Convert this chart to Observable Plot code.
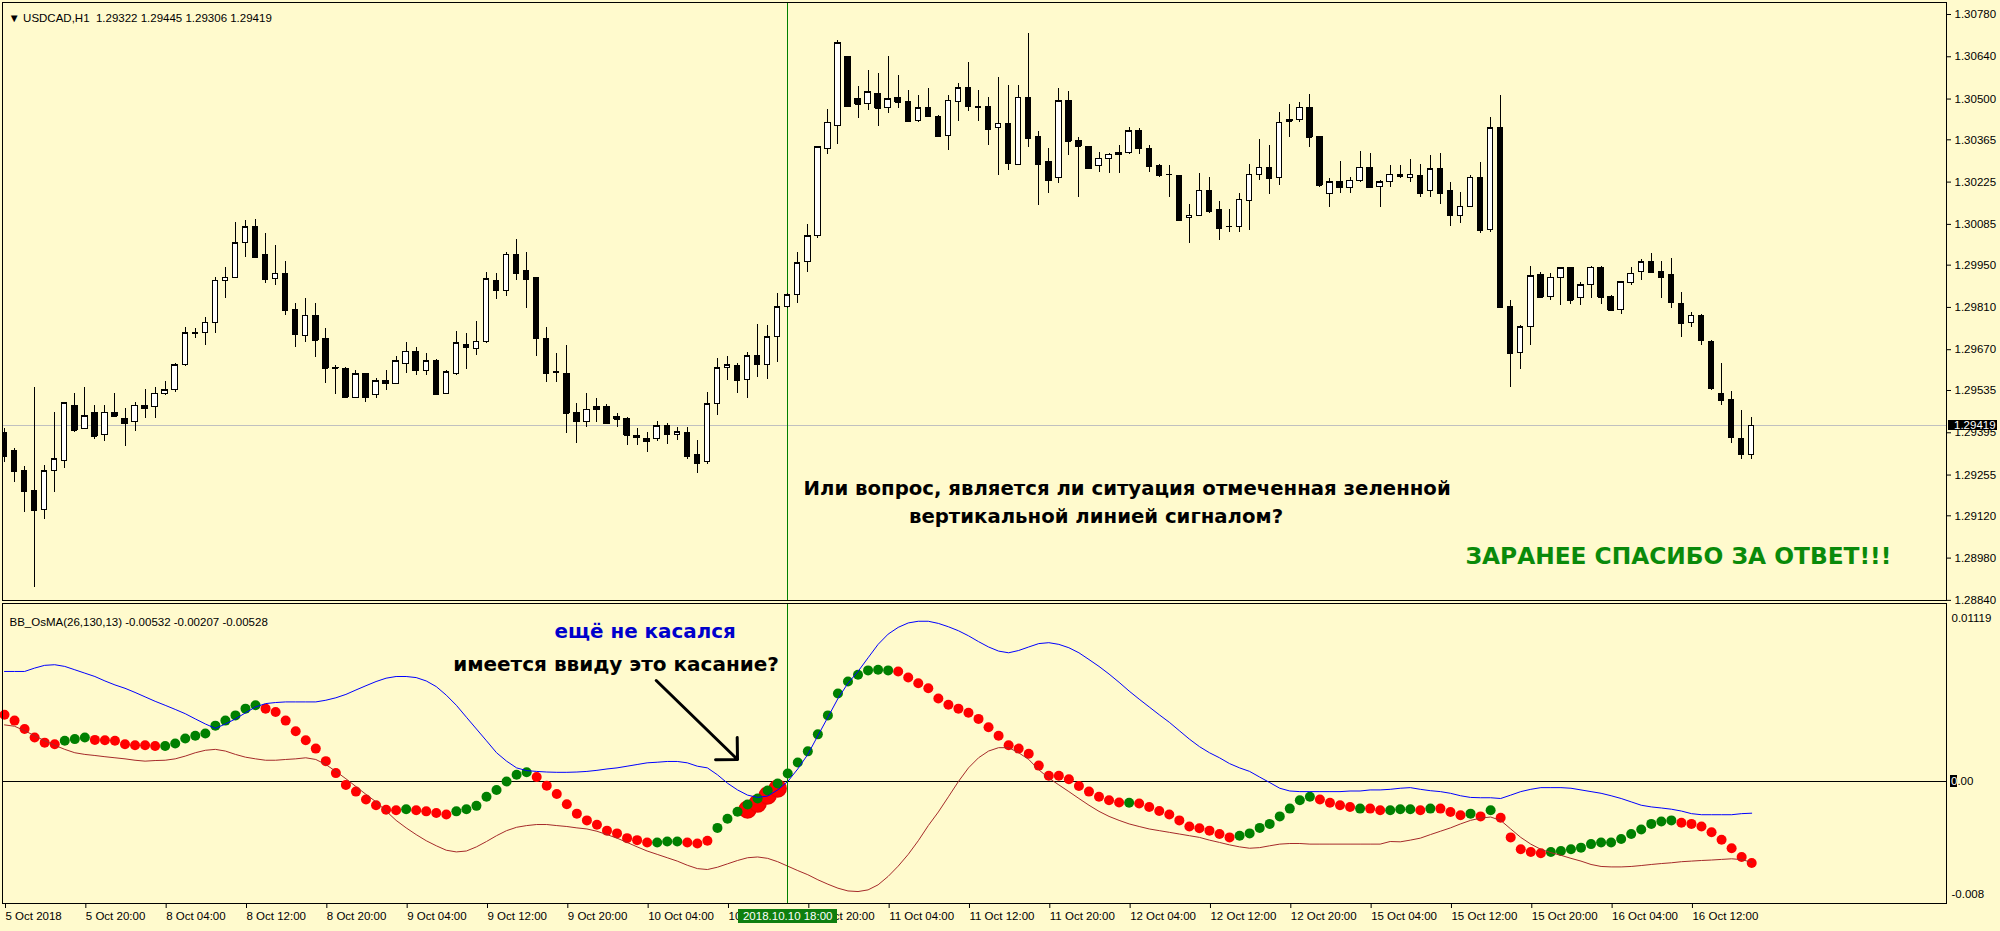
<!DOCTYPE html>
<html><head><meta charset="utf-8">
<script src="https://cdn.jsdelivr.net/npm/d3@7"></script>
<script src="https://cdn.jsdelivr.net/npm/@observablehq/plot@0.6"></script>
<style>
html,body{margin:0;padding:0;background:#FFFACD;}
#chart{position:relative;width:2000px;height:931px;overflow:hidden;background:#FFFACD;}
#chart svg{display:block;background:#FFFACD;overflow:visible;}
#chart svg rect, #chart svg line{shape-rendering:crispEdges;}
</style></head><body><div id="chart"></div>
<script>
// ---------- DATA ----------
const symbolHeader = "\u25BC USDCAD,H1  1.29322 1.29445 1.29306 1.29419";
const oscHeader = "BB_OsMA(26,130,13) -0.00532 -0.00207 -0.00528";

const open = [
1.29393,1.29333,1.29267,1.29201,1.29138,1.29267,1.29303,1.29485,1.29409,1.29459,
1.29386,1.29462,1.29439,1.29429,1.29485,1.29479,1.29525,1.29535,1.29618,1.29727,
1.29727,1.29760,1.29899,1.29909,1.30022,1.30075,1.29985,1.29903,1.29922,1.29800,
1.29714,1.29783,1.29704,1.29611,1.29605,1.29509,1.29588,1.29519,1.29568,1.29558,
1.29624,1.29664,1.29601,1.29634,1.29525,1.29588,1.29684,1.29674,1.29697,1.29896,
1.29866,1.29985,1.29929,1.29906,1.29707,1.29595,1.29591,1.29459,1.29432,1.29479,
1.29479,1.29446,1.29439,1.29383,1.29376,1.29373,1.29416,1.29386,1.29393,1.29323,
1.29297,1.29489,1.29608,1.29615,1.29571,1.29648,1.29621,1.29711,1.29810,1.29850,
1.29962,1.30045,1.30336,1.30412,1.30638,1.30499,1.30482,1.30518,1.30469,1.30502,
1.30489,1.30426,1.30469,1.30442,1.30376,1.30489,1.30535,1.30475,1.30475,1.30403,
1.30419,1.30283,1.30502,1.30373,1.30290,1.30237,1.30492,1.30360,1.30340,1.30277,
1.30303,1.30320,1.30320,1.30393,1.30333,1.30277,1.30250,1.30244,1.30105,1.30114,
1.30194,1.30134,1.30078,1.30075,1.30164,1.30250,1.30273,1.30240,1.30432,1.30432,
1.30472,1.30373,1.30187,1.30224,1.30207,1.30230,1.30273,1.30210,1.30224,1.30247,
1.30240,1.30244,1.30194,1.30267,1.30194,1.30114,1.30144,1.30240,1.30065,1.30403,
1.29810,1.29658,1.29744,1.29916,1.29846,1.29909,1.29939,1.29840,1.29883,1.29942,
1.29843,1.29800,1.29890,1.29926,1.29959,1.29926,1.29919,1.29823,1.29757,1.29783,
1.29697,1.29525,1.29502,1.29373,1.29322];
const high = [
1.29409,1.29343,1.29283,1.29545,1.29287,1.29462,1.29495,1.29525,1.29545,1.29485,
1.29485,1.29525,1.29475,1.29495,1.29538,1.29545,1.29565,1.29624,1.29744,1.29740,
1.29777,1.29909,1.29942,1.30091,1.30098,1.30101,1.30055,1.30015,1.29962,1.29823,
1.29840,1.29823,1.29740,1.29618,1.29611,1.29601,1.29591,1.29575,1.29601,1.29648,
1.29694,1.29677,1.29658,1.29638,1.29601,1.29730,1.29724,1.29764,1.29926,1.29922,
1.29992,1.30035,1.29992,1.29909,1.29744,1.29658,1.29684,1.29492,1.29525,1.29509,
1.29489,1.29459,1.29446,1.29409,1.29396,1.29432,1.29426,1.29413,1.29413,1.29369,
1.29528,1.29641,1.29648,1.29624,1.29661,1.29754,1.29750,1.29856,1.29856,1.29992,
1.30085,1.30343,1.30465,1.30694,1.30641,1.30542,1.30595,1.30585,1.30641,1.30578,
1.30528,1.30512,1.30535,1.30446,1.30512,1.30552,1.30621,1.30528,1.30505,1.30571,
1.30545,1.30545,1.30717,1.30393,1.30336,1.30535,1.30525,1.30373,1.30343,1.30323,
1.30320,1.30346,1.30406,1.30403,1.30346,1.30283,1.30280,1.30247,1.30151,1.30254,
1.30240,1.30161,1.30134,1.30187,1.30283,1.30366,1.30346,1.30456,1.30482,1.30489,
1.30515,1.30376,1.30237,1.30293,1.30240,1.30326,1.30320,1.30230,1.30280,1.30280,
1.30300,1.30283,1.30313,1.30320,1.30224,1.30191,1.30247,1.30290,1.30439,1.30512,
1.29833,1.29750,1.29946,1.29926,1.29922,1.29942,1.29939,1.29893,1.29946,1.29946,
1.29850,1.29896,1.29942,1.29969,1.29989,1.29962,1.29972,1.29860,1.29793,1.29787,
1.29701,1.29624,1.29532,1.29469,1.29445];
const low = [
1.29297,1.29230,1.29131,1.28883,1.29108,1.29197,1.29277,1.29396,1.29406,1.29373,
1.29366,1.29446,1.29350,1.29399,1.29442,1.29442,1.29519,1.29528,1.29615,1.29707,
1.29684,1.29724,1.29840,1.29906,1.29975,1.29972,1.29889,1.29883,1.29783,1.29677,
1.29694,1.29644,1.29558,1.29522,1.29509,1.29507,1.29495,1.29509,1.29535,1.29555,
1.29591,1.29585,1.29585,1.29519,1.29522,1.29585,1.29605,1.29651,1.29691,1.29836,
1.29846,1.29899,1.29807,1.29648,1.29562,1.29562,1.29393,1.29360,1.29413,1.29429,
1.29422,1.29413,1.29353,1.29353,1.29330,1.29366,1.29356,1.29370,1.29307,1.29260,
1.29290,1.29452,1.29568,1.29525,1.29509,1.29578,1.29571,1.29628,1.29807,1.29823,
1.29926,1.30038,1.30316,1.30350,1.30472,1.30436,1.30462,1.30409,1.30452,1.30469,
1.30423,1.30422,1.30439,1.30373,1.30330,1.30426,1.30459,1.30426,1.30346,1.30247,
1.30263,1.30280,1.30340,1.30148,1.30187,1.30220,1.30313,1.30174,1.30267,1.30257,
1.30254,1.30254,1.30316,1.30316,1.30257,1.30240,1.30174,1.30095,1.30022,1.30111,
1.30121,1.30032,1.30058,1.30058,1.30065,1.30230,1.30184,1.30214,1.30373,1.30422,
1.30340,1.30207,1.30141,1.30187,1.30187,1.30224,1.30204,1.30141,1.30207,1.30237,
1.30224,1.30174,1.30174,1.30151,1.30078,1.30088,1.30141,1.30055,1.30058,1.29807,
1.29545,1.29605,1.29684,1.29840,1.29833,1.29817,1.29820,1.29817,1.29840,1.29820,
1.29797,1.29787,1.29883,1.29899,1.29923,1.29840,1.29807,1.29711,1.29744,1.29684,
1.29535,1.29485,1.29360,1.29306,1.29306];
const close = [
1.29317,1.29267,1.29201,1.29138,1.29267,1.29307,1.29492,1.29403,1.29449,1.29383,
1.29462,1.29449,1.29426,1.29485,1.29475,1.29525,1.29535,1.29618,1.29724,1.29724,
1.29760,1.29899,1.29909,1.30022,1.30075,1.29975,1.29903,1.29922,1.29800,1.29720,
1.29783,1.29701,1.29608,1.29608,1.29512,1.29588,1.29512,1.29565,1.29558,1.29631,
1.29664,1.29601,1.29631,1.29522,1.29595,1.29691,1.29677,1.29697,1.29903,1.29866,
1.29985,1.29922,1.29903,1.29707,1.29591,1.29594,1.29459,1.29432,1.29472,1.29472,
1.29426,1.29439,1.29386,1.29379,1.29366,1.29416,1.29389,1.29396,1.29317,1.29293,
1.29489,1.29608,1.29618,1.29568,1.29648,1.29621,1.29711,1.29810,1.29850,1.29956,
1.30045,1.30340,1.30422,1.30684,1.30475,1.30482,1.30522,1.30469,1.30499,1.30489,
1.30426,1.30469,1.30442,1.30376,1.30495,1.30535,1.30475,1.30472,1.30399,1.30419,
1.30287,1.30505,1.30369,1.30283,1.30230,1.30492,1.30360,1.30343,1.30270,1.30303,
1.30316,1.30316,1.30393,1.30336,1.30277,1.30247,1.30250,1.30098,1.30114,1.30197,
1.30128,1.30071,1.30078,1.30167,1.30250,1.30273,1.30237,1.30422,1.30426,1.30472,
1.30373,1.30214,1.30224,1.30207,1.30230,1.30273,1.30207,1.30224,1.30250,1.30244,
1.30250,1.30187,1.30267,1.30187,1.30114,1.30144,1.30240,1.30065,1.30403,1.29810,
1.29658,1.29744,1.29913,1.29843,1.29909,1.29939,1.29833,1.29883,1.29942,1.29843,
1.29800,1.29893,1.29922,1.29959,1.29926,1.29909,1.29826,1.29757,1.29783,1.29701,
1.29542,1.29502,1.29379,1.29322,1.29419];

const oscValue = [
0.00436,0.00398,0.00343,0.00288,0.00254,0.00243,0.00266,0.00277,0.00288,0.00272,
0.00270,0.00266,0.00243,0.00237,0.00237,0.00232,0.00232,0.00248,0.00281,0.00299,
0.00314,0.00365,0.00398,0.00432,0.00476,0.00498,0.00476,0.00454,0.00398,0.00328,
0.00270,0.00215,0.00133,0.00055,-0.00022,-0.00066,-0.00117,-0.00155,-0.00184,-0.00188,
-0.00181,-0.00188,-0.00195,-0.00206,-0.00215,-0.00195,-0.00181,-0.00159,-0.00100,-0.00055,
0.00000,0.00044,0.00060,0.00029,-0.00027,-0.00082,-0.00148,-0.00210,-0.00254,-0.00283,
-0.00321,-0.00339,-0.00370,-0.00383,-0.00398,-0.00398,-0.00392,-0.00392,-0.00398,-0.00405,
-0.00387,-0.00303,-0.00243,-0.00197,-0.00150,-0.00111,-0.00059,-0.00013,0.00052,0.00124,
0.00197,0.00308,0.00432,0.00575,0.00653,0.00697,0.00726,0.00730,0.00726,0.00719,
0.00679,0.00642,0.00609,0.00542,0.00502,0.00476,0.00449,0.00409,0.00354,0.00299,
0.00237,0.00215,0.00181,0.00104,0.00038,0.00038,0.00015,-0.00029,-0.00066,-0.00100,
-0.00122,-0.00137,-0.00139,-0.00144,-0.00166,-0.00193,-0.00215,-0.00254,-0.00294,-0.00305,
-0.00321,-0.00343,-0.00365,-0.00354,-0.00339,-0.00303,-0.00277,-0.00228,-0.00177,-0.00122,
-0.00100,-0.00117,-0.00139,-0.00155,-0.00166,-0.00177,-0.00177,-0.00188,-0.00188,-0.00181,
-0.00181,-0.00188,-0.00177,-0.00177,-0.00199,-0.00221,-0.00210,-0.00228,-0.00188,-0.00237,
-0.00365,-0.00443,-0.00460,-0.00469,-0.00460,-0.00454,-0.00443,-0.00432,-0.00409,-0.00398,
-0.00398,-0.00376,-0.00343,-0.00314,-0.00277,-0.00261,-0.00254,-0.00270,-0.00277,-0.00294,
-0.00332,-0.00381,-0.00436,-0.00493,-0.00532];
// u = rising (green dot), d = falling (red dot)
const oscDir = "dddddd"+"uuu"+"ddddddd"+"uuuuuuuuuu"+"dddddddddddddd"+"u"+"dddd"+"uuuuuuuu"+
  "dddddddddddd"+"uuu"+"ddd"+"uuuuuuuuuuuuuuuuuu"+"ddddddddddddddddddddddd"+"u"+"dddddddddd"+
  "uuuuuuuu"+"dddd"+"u"+"dd"+"uuu"+"d"+"u"+"ddd"+"u"+"d"+"u"+"ddddd"+"uuuuuuuuuuuuu"+"dddddddd";
const bandUpper = [
0.00719,0.00719,0.00719,0.00741,0.00759,0.00763,0.00752,0.00730,0.00708,0.00686,
0.00657,0.00631,0.00609,0.00582,0.00553,0.00524,0.00498,0.00471,0.00443,0.00409,
0.00376,0.00347,0.00376,0.00409,0.00449,0.00487,0.00509,0.00516,0.00520,0.00520,
0.00520,0.00520,0.00531,0.00547,0.00569,0.00598,0.00626,0.00653,0.00675,0.00686,
0.00686,0.00679,0.00657,0.00620,0.00564,0.00498,0.00420,0.00343,0.00266,0.00188,
0.00133,0.00089,0.00071,0.00066,0.00062,0.00060,0.00060,0.00062,0.00066,0.00073,
0.00082,0.00089,0.00100,0.00111,0.00122,0.00126,0.00131,0.00131,0.00122,0.00100,
0.00089,0.00044,-0.00011,-0.00055,-0.00089,-0.00104,-0.00095,-0.00055,0.00000,0.00082,
0.00177,0.00299,0.00420,0.00542,0.00642,0.00719,0.00808,0.00896,0.00963,0.01007,
0.01036,0.01047,0.01047,0.01033,0.01011,0.00985,0.00952,0.00914,0.00879,0.00852,
0.00841,0.00856,0.00879,0.00901,0.00907,0.00896,0.00874,0.00841,0.00797,0.00752,
0.00702,0.00648,0.00591,0.00538,0.00487,0.00436,0.00387,0.00332,0.00277,0.00228,
0.00188,0.00155,0.00117,0.00089,0.00066,0.00029,-0.00007,-0.00044,-0.00062,-0.00066,
-0.00066,-0.00066,-0.00066,-0.00066,-0.00062,-0.00062,-0.00055,-0.00055,-0.00051,-0.00044,
-0.00040,-0.00051,-0.00060,-0.00066,-0.00077,-0.00093,-0.00104,-0.00106,-0.00106,-0.00111,
-0.00089,-0.00066,-0.00051,-0.00040,-0.00040,-0.00040,-0.00044,-0.00055,-0.00066,-0.00077,
-0.00093,-0.00111,-0.00133,-0.00155,-0.00166,-0.00173,-0.00181,-0.00193,-0.00210,-0.00217,
-0.00217,-0.00217,-0.00217,-0.00210,-0.00207];
const bandLower = [
0.00370,0.00361,0.00332,0.00299,0.00266,0.00237,0.00210,0.00188,0.00177,0.00170,
0.00162,0.00155,0.00148,0.00139,0.00133,0.00137,0.00139,0.00148,0.00166,0.00188,
0.00204,0.00210,0.00199,0.00177,0.00159,0.00148,0.00139,0.00139,0.00144,0.00148,
0.00155,0.00144,0.00111,0.00066,0.00018,-0.00033,-0.00084,-0.00133,-0.00193,-0.00254,
-0.00303,-0.00347,-0.00387,-0.00420,-0.00449,-0.00460,-0.00454,-0.00427,-0.00392,-0.00354,
-0.00321,-0.00299,-0.00288,-0.00281,-0.00281,-0.00288,-0.00294,-0.00303,-0.00310,-0.00325,
-0.00347,-0.00370,-0.00398,-0.00427,-0.00454,-0.00476,-0.00498,-0.00520,-0.00547,-0.00569,
-0.00575,-0.00560,-0.00538,-0.00516,-0.00498,-0.00493,-0.00502,-0.00524,-0.00553,-0.00582,
-0.00609,-0.00642,-0.00671,-0.00697,-0.00715,-0.00719,-0.00708,-0.00675,-0.00620,-0.00553,
-0.00476,-0.00387,-0.00288,-0.00199,-0.00100,0.00000,0.00089,0.00155,0.00199,0.00221,
0.00221,0.00188,0.00144,0.00077,0.00022,-0.00022,-0.00066,-0.00111,-0.00155,-0.00195,
-0.00228,-0.00254,-0.00277,-0.00294,-0.00310,-0.00321,-0.00332,-0.00343,-0.00354,-0.00365,
-0.00383,-0.00398,-0.00414,-0.00427,-0.00436,-0.00432,-0.00420,-0.00409,-0.00405,-0.00405,
-0.00409,-0.00409,-0.00409,-0.00409,-0.00409,-0.00409,-0.00409,-0.00409,-0.00392,-0.00394,
-0.00383,-0.00370,-0.00347,-0.00325,-0.00303,-0.00277,-0.00254,-0.00239,-0.00232,-0.00254,
-0.00310,-0.00365,-0.00409,-0.00443,-0.00465,-0.00482,-0.00502,-0.00520,-0.00542,-0.00555,
-0.00558,-0.00558,-0.00555,-0.00549,-0.00542,-0.00536,-0.00531,-0.00524,-0.00520,-0.00516,
-0.00513,-0.00509,-0.00505,-0.00510,-0.00528];

const priceTicks = [1.30780,1.30640,1.30500,1.30365,1.30225,1.30085,1.29950,1.29810,1.29670,1.29535,1.29395,1.29255,1.29120,1.28980,1.28840];
const lastPrice = 1.29419;
const oscMaxLabel = "0.01119";
const oscMinLabel = "-0.008";
const oscLevel = 0;
const timeTicks = [0,8,16,24,32,40,48,56,64,72,80,88,96,104,112,120,128,136,144,152,160,168];
const timeLabels = ["5 Oct 2018","5 Oct 20:00","8 Oct 04:00","8 Oct 12:00","8 Oct 20:00","9 Oct 04:00","9 Oct 12:00","9 Oct 20:00","10 Oct 04:00","10 Oct 12:00","10 Oct 20:00","11 Oct 04:00","11 Oct 12:00","11 Oct 20:00","12 Oct 04:00","12 Oct 12:00","12 Oct 20:00","15 Oct 04:00","15 Oct 12:00","15 Oct 20:00","16 Oct 04:00","16 Oct 12:00"];
const signalBar = 78;
const signalLabel = "2018.10.10 18:00";
const highlightBars = [74,75,76,77];

// annotations (bar index, value)
const upperNotes = [
  {i: 111.8, p: 1.29210, text: "Или вопрос, является ли ситуация отмеченная зеленной", color: "black", size: 19.7},
  {i: 108.7, p: 1.29118, text: "вертикальной линией сигналом?", color: "black", size: 19.7},
  {i: 166.7, p: 1.28984, text: "ЗАРАНЕЕ СПАСИБО ЗА ОТВЕТ!!!", color: "#0a8a0a", size: 23.3}
];
const lowerNotes = [
  {i: 63.8, v: 0.00977, text: "ещё не касался", color: "#0000cc", size: 19.9},
  {i: 60.9, v: 0.00765, text: "имеется ввиду это касание?", color: "black", size: 20}
];
const arrowNote = [{i1: 64.9, v1: 0.00660, i2: 73.0, v2: 0.00144}];

// ---------- BUILD ----------
const N = close.length;
const candles = d3.range(N).map(i => ({i, open: open[i], high: high[i], low: low[i], close: close[i]}));
const osc = d3.range(N).map(i => ({i, v: oscValue[i], up: oscDir[i] === "u", hi: bandUpper[i], lo: bandLower[i]}));
const timeMap = new Map(timeTicks.map((t, k) => [t, timeLabels[k]]));
const xDomain = [-0.2, 193.4];
const uiFont = "'Liberation Sans', Arial, sans-serif";
const noteFont = "'DejaVu Sans', Verdana, sans-serif";
const BG = "#FFFACD";

const upper = Plot.plot({
  width: 2000, height: 601,
  marginTop: 2, marginBottom: 1, marginLeft: 2, marginRight: 54,
  style: {background: BG, fontFamily: uiFont, fontSize: "11.5px", color: "black"},
  x: {domain: xDomain, axis: null},
  y: {domain: [1.288396, 1.308197]},
  marks: [
    Plot.ruleY([lastPrice], {stroke: "#C0C0C0"}),
    Plot.ruleX([signalBar], {stroke: "#008000"}),
    Plot.ruleX(candles, {x: "i", y1: "low", y2: "high", stroke: "black", clip: true}),
    Plot.rect(candles, {x1: d => d.i - 0.27, x2: d => d.i + 0.27, y1: "open", y2: "close",
      fill: d => d.close >= d.open ? "white" : "black", stroke: "black", clip: true}),
    Plot.ruleY(candles, {y: "close", x1: d => d.i - 0.3, x2: d => d.i + 0.3, stroke: "black", clip: true}),
    Plot.axisY(priceTicks, {anchor: "right", tickSize: 4, tickPadding: 4, tickFormat: d => d.toFixed(5), label: null, fontSize: 11.5}),
    Plot.rect([lastPrice], {x1: () => xDomain[1] + 0.2, x2: () => xDomain[1] + 5.1,
      y1: d => d - 0.000175, y2: d => d + 0.000175, fill: "black"}),
    Plot.text([lastPrice], {x: () => xDomain[1] + 0.75, y: d => d, text: d => d.toFixed(5), fill: "white", textAnchor: "start", fontSize: 11.5}),
    Plot.frame({stroke: "black"}),
    Plot.text([symbolHeader], {frameAnchor: "top-left", dx: 6, dy: 11, text: d => d, textAnchor: "start", fontSize: 11.5}),
    Plot.text(upperNotes, {x: "i", y: "p", text: "text", fill: "color", fontSize: "size", fontWeight: "bold", fontFamily: noteFont})
  ]
});

const lower = Plot.plot({
  width: 2000, height: 330,
  marginTop: 2, marginBottom: 28, marginLeft: 2, marginRight: 54,
  style: {background: BG, fontFamily: uiFont, fontSize: "11.5px", color: "black"},
  x: {domain: xDomain},
  y: {domain: [-0.00797, 0.01163], axis: null},
  marks: [
    Plot.ruleY([oscLevel], {stroke: "black"}),
    Plot.dot(highlightBars, {x: d => d, y: d => oscValue[d], r: 8.5, dy: 5, fill: "#ff0000", stroke: "#ee0000"}),
    Plot.dot(osc, {x: "i", y: "v", r: 5, fill: d => d.up ? "#008000" : "#ff0000"}),
    Plot.line(osc, {x: "i", y: "hi", stroke: "#0000ff", strokeWidth: 1}),
    Plot.line(osc, {x: "i", y: "lo", stroke: "#a52a2a", strokeWidth: 1}),
    Plot.ruleX([signalBar], {stroke: "#008000"}),
    Plot.axisX(timeTicks, {anchor: "bottom", tickSize: 5, tickPadding: 3, textAnchor: "start", dx: 1,
      tickFormat: d => timeMap.get(d), label: null, fontSize: 11.5}),
    Plot.rect([signalBar], {x1: d => d - 4.95, x2: d => d + 4.95, y1: -0.00928, y2: -0.00836, fill: "#0f7f0f"}),
    Plot.text([signalBar], {x: d => d, y: -0.00882, text: () => signalLabel, fill: "white", fontSize: 11.5}),
    Plot.rect([oscLevel], {x1: () => xDomain[1] + 0.4, x2: () => xDomain[1] + 1.1, y1: d => d - 0.0004, y2: d => d + 0.0004, fill: "black"}),
    Plot.text([oscLevel], {x: () => xDomain[1] + 0.45, y: d => d, text: d => d.toFixed(2), textAnchor: "start", fontSize: 11.5}),
    Plot.text([oscLevel], {x: () => xDomain[1] + 0.45, y: d => d, text: () => "0", fill: "white", textAnchor: "start", fontSize: 11.5}),
    Plot.text([oscMaxLabel], {frameAnchor: "top-right", dx: 5, dy: 10, text: d => d, textAnchor: "start", fontSize: 11.5}),
    Plot.text([oscMinLabel], {frameAnchor: "bottom-right", dx: 5, dy: -6, text: d => d, textAnchor: "start", fontSize: 11.5}),
    Plot.frame({stroke: "black"}),
    Plot.text([oscHeader], {frameAnchor: "top-left", dx: 7, dy: 14, text: d => d, textAnchor: "start", fontSize: 11.5}),
    Plot.text(lowerNotes, {x: "i", y: "v", text: "text", fill: "color", fontSize: "size", fontWeight: "bold", fontFamily: noteFont}),
    Plot.arrow(arrowNote, {x1: "i1", y1: "v1", x2: "i2", y2: "v2", stroke: "black", strokeWidth: 3, headAngle: 90, headLength: 11})
  ]
});

const root = document.getElementById("chart");
root.appendChild(upper);
root.appendChild(lower);
</script>
</body></html>
